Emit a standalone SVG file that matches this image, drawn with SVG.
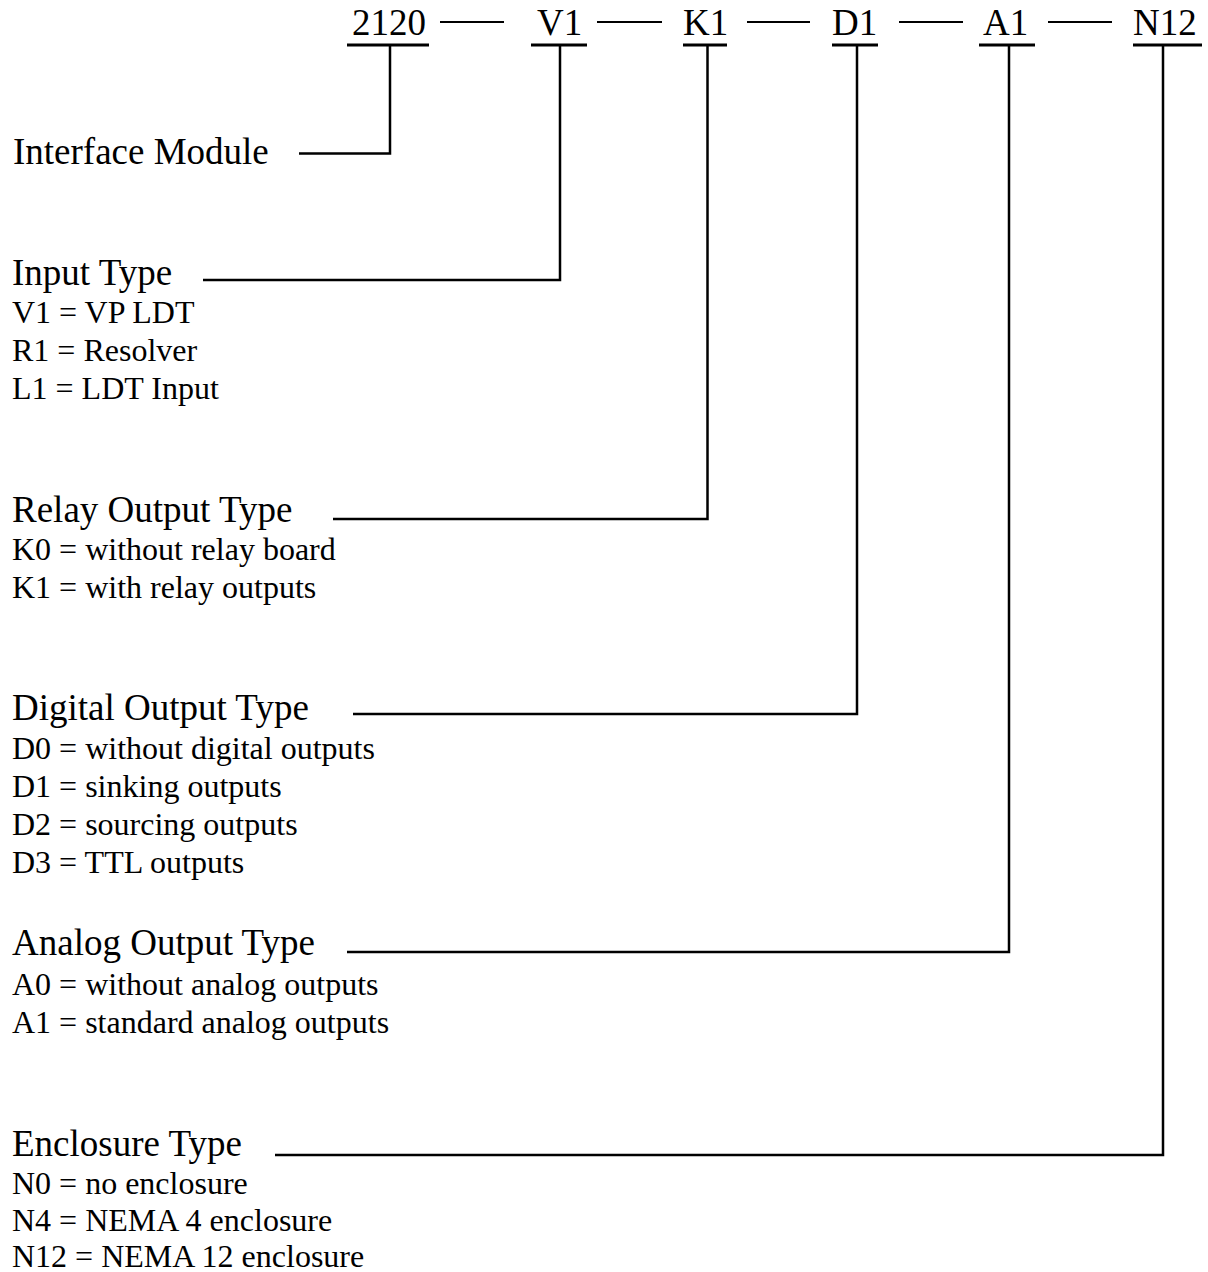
<svg xmlns="http://www.w3.org/2000/svg" width="1208" height="1272" viewBox="0 0 1208 1272">
<style>
text{font-family:"Liberation Serif","Times New Roman",serif;fill:#000}
.code{font-size:37px}
.h{font-size:37px}
.s{font-size:32px}
.ln{stroke:#000;stroke-width:2.5;fill:none}
.ul{stroke:#000;stroke-width:3;fill:none}
.dash{stroke:#000;stroke-width:2.2;fill:none}
</style>
<rect width="1208" height="1272" fill="#fff"/>
<g id="code">
<text class="code" x="352" y="35">2120</text>
<text class="code" x="537" y="35">V1</text>
<text class="code" x="683" y="35">K1</text>
<text class="code" x="832" y="35">D1</text>
<text class="code" x="983" y="35">A1</text>
<text class="code" x="1133" y="35">N12</text>
<path class="ul" d="M347 45H429M531 45H587M683 45H727M832 45H878M979 45H1035M1133 45H1202"/>
<path class="dash" d="M440 22H504M597 22H662M747 22H810M899 22H963M1048 22H1112"/>
</g>
<g id="interface">
<text class="h" x="13" y="164">Interface Module</text>
</g>
<g id="input">
<text class="h" x="12" y="285">Input Type</text>
<text class="s" x="12" y="323">V1 = VP LDT</text>
<text class="s" x="12" y="361">R1 = Resolver</text>
<text class="s" x="12" y="399">L1 = LDT Input</text>
</g>
<g id="relay">
<text class="h" x="12" y="522">Relay Output Type</text>
<text class="s" x="12" y="560">K0 = without relay board</text>
<text class="s" x="12" y="598">K1 = with relay outputs</text>
</g>
<g id="digital">
<text class="h" x="12" y="720">Digital Output Type</text>
<text class="s" x="12" y="759">D0 = without digital outputs</text>
<text class="s" x="12" y="797">D1 = sinking outputs</text>
<text class="s" x="12" y="835">D2 = sourcing outputs</text>
<text class="s" x="12" y="873">D3 = TTL outputs</text>
</g>
<g id="analog">
<text class="h" x="12" y="955">Analog Output Type</text>
<text class="s" x="12" y="995">A0 = without analog outputs</text>
<text class="s" x="12" y="1033">A1 = standard analog outputs</text>
</g>
<g id="enclosure">
<text class="h" x="12" y="1156">Enclosure Type</text>
<text class="s" x="12" y="1194">N0 = no enclosure</text>
<text class="s" x="12" y="1231">N4 = NEMA 4 enclosure</text>
<text class="s" x="12" y="1267">N12 = NEMA 12 enclosure</text>
</g>
<g id="connectors">
<path class="ln" d="M390 45V153.5H299"/>
<path class="ln" d="M560 45V280H203"/>
<path class="ln" d="M707.5 45V519H333"/>
<path class="ln" d="M857 45V714H353"/>
<path class="ln" d="M1009 45V952H347"/>
<path class="ln" d="M1163 45V1155H275"/>
</g>
</svg>
